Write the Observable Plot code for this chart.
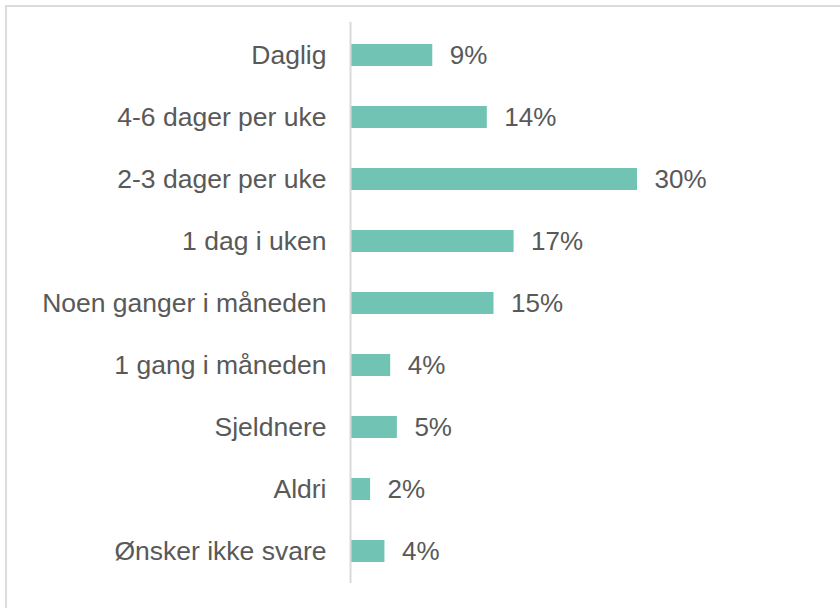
<!DOCTYPE html>
<html>
<head>
<meta charset="utf-8">
<script src="https://cdn.jsdelivr.net/npm/d3@7"></script>
<script src="https://cdn.jsdelivr.net/npm/@observablehq/plot@0.6"></script>
<style>
  html, body { margin: 0; padding: 0; background: #fff; }
  #wrap { position: relative; width: 840px; height: 608px; overflow: hidden; }
  #frame { position: absolute; left: 5px; top: 5px; width: 900px; height: 700px; border: 2px solid #DCDCDC; box-sizing: border-box; }
  #chart { position: absolute; left: 0; top: 0; }
</style>
</head>
<body>
<div id="wrap"><div id="frame"></div><div id="chart"></div></div>
<script>
const categories = ["Daglig", "4-6 dager per uke", "2-3 dager per uke", "1 dag i uken", "Noen ganger i måneden", "1 gang i måneden", "Sjeldnere", "Aldri", "Ønsker ikke svare"];
const values = [8.6, 14.3, 30.0, 17.1, 15.0, 4.2, 4.9, 2.1, 3.6];
const valueLabels = ["9%", "14%", "30%", "17%", "15%", "4%", "5%", "2%", "4%"];

const data = categories.map((c, i) => ({category: c, value: values[i], label: valueLabels[i]}));

const chart = Plot.plot({
  width: 840,
  height: 608,
  marginLeft: 350,
  marginRight: 203,
  marginTop: 22,
  marginBottom: 25,
  style: {fontFamily: "Arial, 'Liberation Sans', sans-serif", background: "transparent"},
  x: {domain: [0, 30], axis: null},
  y: {domain: categories, paddingInner: 0.647, paddingOuter: 0.3235, label: null},
  marks: [
    Plot.barX(data, {x: "value", y: "category", fill: "#71C4B3"}),
    Plot.ruleX([0], {stroke: "#D9D9D9", strokeWidth: 2}),
    Plot.axisY({tickSize: 0, tickPadding: 24, fontSize: 26.5, fill: "#595959", label: null}),
    Plot.text(data, {x: "value", y: "category", text: "label", dx: 17, textAnchor: "start", fontSize: 26, fill: "#595959"})
  ]
});
document.getElementById("chart").appendChild(chart);
</script>
</body>
</html>
